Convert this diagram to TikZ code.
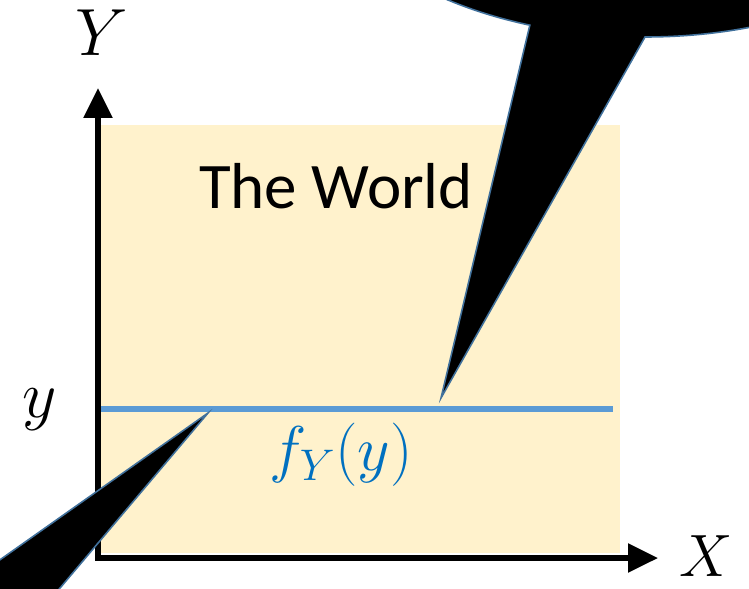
\RequirePackage{fix-cm}
\documentclass[tikz,border=0pt]{standalone}
\usepackage{fontspec}
\newfontfamily\calibri{Carlito}
\usetikzlibrary{arrows.meta}
\definecolor{worldfill}{HTML}{FFF2CC}
\definecolor{levelblue}{HTML}{5B9BD5}
\definecolor{densblue}{HTML}{0070C0}
\definecolor{calloutedge}{HTML}{41719C}
\begin{document}
\begin{tikzpicture}[x=0.02cm, y=-0.02cm,
    axis/.style={line width=2.9pt, line join=miter,
      {Triangle[length=17pt,width=16pt]}-{Triangle[length=17pt,width=16pt]}},
    axislabel/.style={inner sep=0pt, font=\fontsize{38}{44}\selectfont},
    callout/.style={fill=black, draw=calloutedge, line width=0.9pt}]
    % Scale: one unit = one pixel of the 749 x 588 sketch, y runs downward
    \useasboundingbox (0,0) rectangle (749,588);

    % The world: pale box
    \fill[worldfill] (100,125) rectangle (620,553);
    \node[inner sep=0pt, font=\calibri\fontsize{37}{44}\selectfont]
      (world) at (336,186) {The World};

    % Level set y: blue line across the box
    \coordinate (levelL) at (95,409);
    \coordinate (levelR) at (613,409);
    \draw[levelblue, line width=3pt] (levelL) -- (levelR);
    \node[inner sep=0pt, text=densblue, font=\fontsize{36}{42}\selectfont]
      (density) at (341,455) {$f_Y(y)$};

    % Axes
    \coordinate (origin) at (98,558);
    \coordinate (ytip) at (98,88);
    \coordinate (xtip) at (658,558);
    \draw[axis] (ytip) -- (origin) -- (xtip);
    \node[axislabel] (Ylbl) at (102,33) {$Y$};
    \node[axislabel, font=\fontsize{34}{40}\selectfont] (Xlbl) at (706,556) {$X$};
    \node[axislabel] (ylbl) at (40,410) {$y$};

    % Speech bubbles: big one off the top edge, tail down to the line
    \draw[callout] (645,37)
      arc[start angle=90, end angle=-250.2, x radius=340, y radius=200]
      -- (441,398) -- cycle;

    % second bubble off the bottom left, tail up to the line
    \draw[callout] (208,413) -- (-40,588) -- (-40,620) -- (33,620) -- cycle;

  \end{tikzpicture}
\end{document}
